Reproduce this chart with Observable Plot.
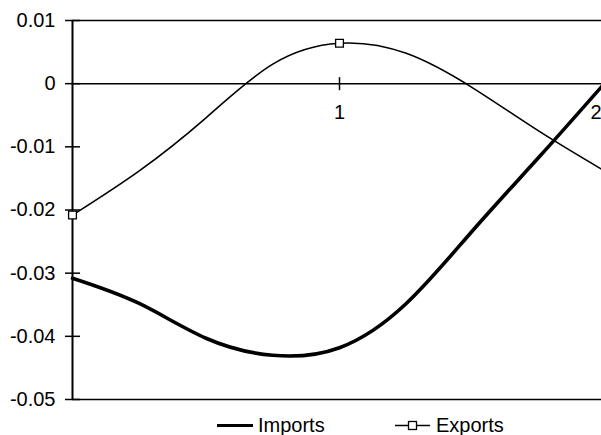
<!DOCTYPE html>
<html>
<head>
<meta charset="utf-8">
<script src="https://cdn.jsdelivr.net/npm/d3@7"></script>
<script src="https://cdn.jsdelivr.net/npm/@observablehq/plot@0.6"></script>
<style>
  html, body { margin: 0; padding: 0; background: white; overflow: hidden; }
  #wrap { position: relative; width: 601px; height: 435px; overflow: hidden; background: white; }
  #chart { position: absolute; left: 0; top: 0; }
  #legend { position: absolute; left: 0; top: 405px; }
  svg text { font-family: "Liberation Sans", Arial, sans-serif; }
</style>
</head>
<body>
<div id="wrap">
  <div id="chart"></div>
  <svg id="legend" width="601" height="30"></svg>
</div>
<script>
// ---- data ----
const xValues = [0, 0.25, 0.5, 0.75, 1, 1.25, 1.5, 1.75, 2];
const importsValues = [-0.0308, -0.0348, -0.0403, -0.0430, -0.0418, -0.0348, -0.0232, -0.0115, 0.0004];
const exportsValues = [-0.0208, -0.0138, -0.0054, 0.0031, 0.0064, 0.0048, -0.0007, -0.0076, -0.0140];
const seriesNames = ["Imports", "Exports"];
const yTicks = [0.01, 0, -0.01, -0.02, -0.03, -0.04, -0.05];
const xTicks = [1, 2];
const xTickLabels = ["1", "2"];

const font = '"Liberation Sans", Arial, sans-serif';
const W = 601, H = 410, mL = 72, mT = 20, mB = 11, mR = 0;
const xRange = [72, 606];
const yDomain = [-0.05, 0.01];
const yPx = d3.scaleLinear(yDomain, [H - mB, mT]);
const frameW = W - mL - mR;
const y0 = yPx(0);

const importsData = xValues.map((x, i) => ({x, v: importsValues[i]}));
const exportsData = xValues.map((x, i) => ({x, v: exportsValues[i]}));
const exportMarkers = exportsData.filter(d => Number.isInteger(d.x));
const fmt = d => d === 0 ? "0" : d.toFixed(2);
const xt = xTicks.map((x, i) => ({x, label: xTickLabels[i]}));

const chart = Plot.plot({
  width: W, height: H,
  marginLeft: mL, marginRight: mR, marginTop: mT, marginBottom: mB,
  x: {domain: [0, 2], range: xRange, axis: null},
  y: {domain: yDomain, axis: null},
  style: {fontFamily: font, fontSize: "20px", color: "black", background: "white", overflow: "hidden"},
  marks: [
    Plot.ruleY([yDomain[1], yDomain[0]], {stroke: "black", strokeWidth: 1.5}),
    Plot.ruleY([0], {stroke: "black", strokeWidth: 1.5}),
    Plot.ruleX([0], {stroke: "black", strokeWidth: 2}),
    Plot.tickY(yTicks, {y: d => d, stroke: "black", strokeWidth: 1.5, insetLeft: -7, insetRight: frameW - 8}),
    Plot.text(yTicks, {y: d => d, text: fmt, frameAnchor: "left", textAnchor: "end", dx: -17, fill: "black", fontSize: 20}),
    Plot.tickX(xTicks, {x: d => d, stroke: "black", strokeWidth: 1.5, insetTop: (y0 - 6) - mT, insetBottom: (H - mB) - (y0 + 7)}),
    Plot.text(xt.filter(d => d.x < 2), {x: "x", y: () => 0, text: "label", dy: 29, textAnchor: "middle", fill: "black", fontSize: 20}),
    Plot.text(xt.filter(d => d.x >= 2), {x: "x", y: () => 0, text: "label", dy: 29, dx: -5, textAnchor: "end", fill: "black", fontSize: 20}),
    Plot.line(exportsData, {x: "x", y: "v", curve: "natural", stroke: "black", strokeWidth: 1.6}),
    Plot.line(importsData, {x: "x", y: "v", curve: "natural", stroke: "black", strokeWidth: 3.6}),
    Plot.dot(exportMarkers, {x: "x", y: "v", symbol: "square", r: 4.4, fill: "white", stroke: "black", strokeWidth: 1.3})
  ]
});
document.getElementById("chart").appendChild(chart);

// ---- legend below the chart ----
const lg = d3.select("#legend");
lg.append("line").attr("x1", 217).attr("x2", 253).attr("y1", 20.5).attr("y2", 20.5)
  .attr("stroke", "black").attr("stroke-width", 3);
lg.append("text").attr("x", 258).attr("y", 26.5).attr("font-size", 20).attr("fill", "black").text(seriesNames[0]);
lg.append("line").attr("x1", 395).attr("x2", 430).attr("y1", 20.5).attr("y2", 20.5)
  .attr("stroke", "black").attr("stroke-width", 1.3);
lg.append("rect").attr("x", 408.5).attr("y", 16.5).attr("width", 8).attr("height", 8)
  .attr("fill", "white").attr("stroke", "black").attr("stroke-width", 1.3);
lg.append("text").attr("x", 436).attr("y", 26.5).attr("font-size", 20).attr("fill", "black").text(seriesNames[1]);
</script>
</body>
</html>
